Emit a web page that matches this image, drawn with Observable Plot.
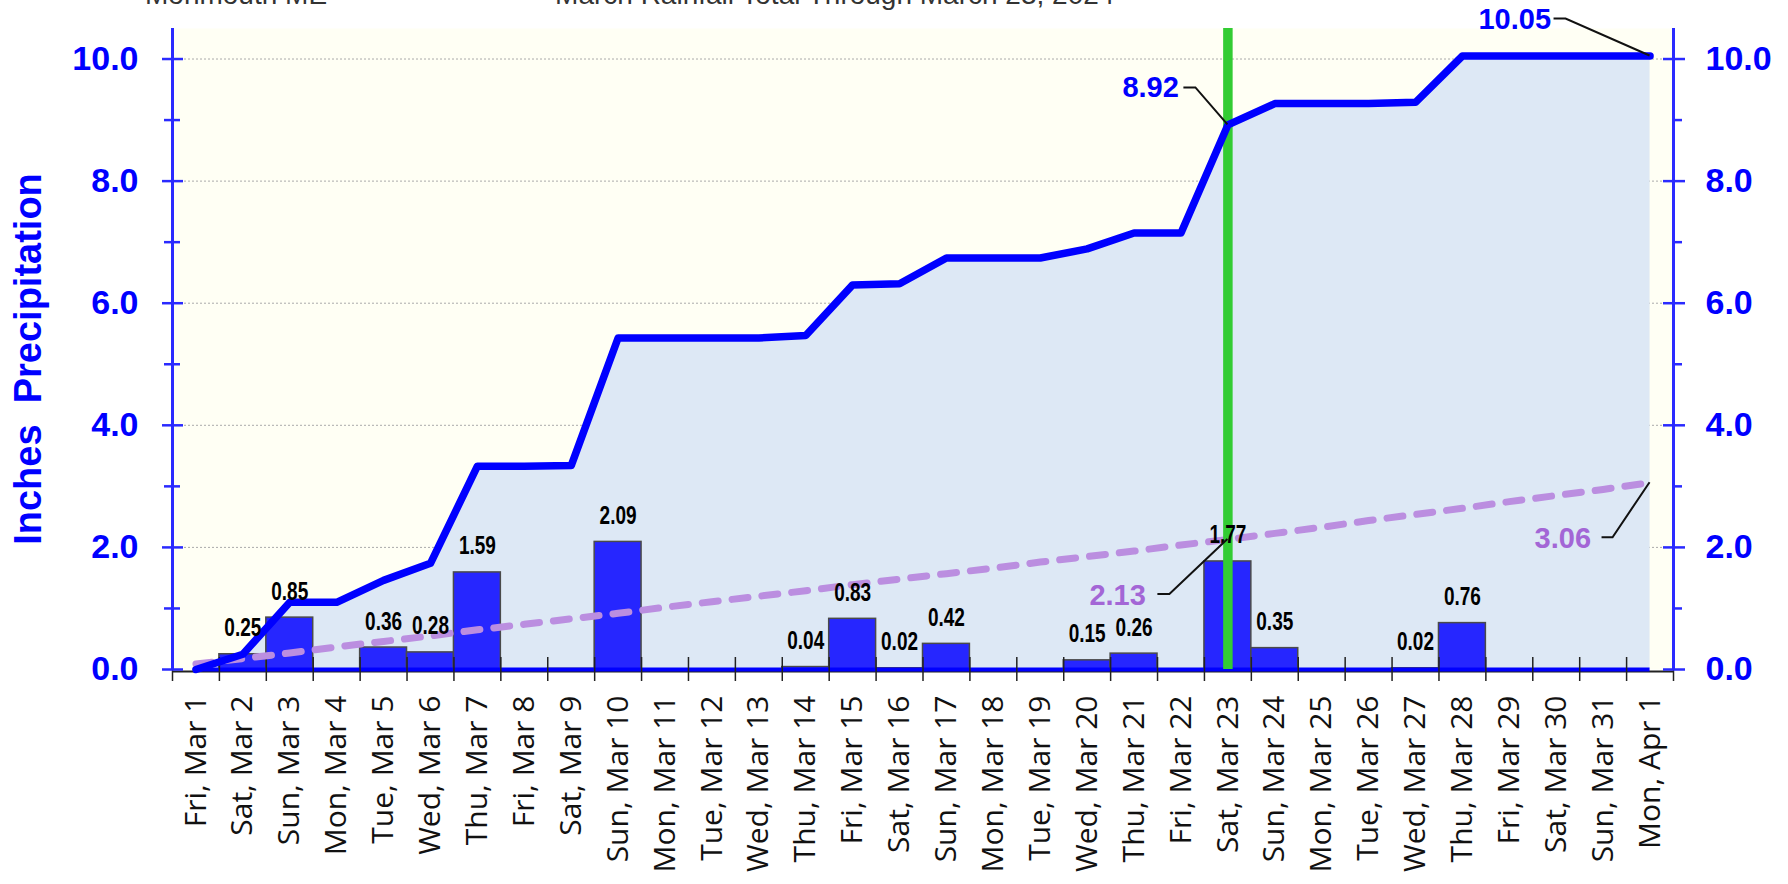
<!DOCTYPE html>
<html><head><meta charset="utf-8">
<script src="https://cdn.jsdelivr.net/npm/d3@7"></script>
<script src="https://cdn.jsdelivr.net/npm/@observablehq/plot@0.6"></script>
<style>
html,body{margin:0;padding:0;background:#fff;overflow:hidden;}
#wrap{position:relative;width:1788px;height:884px;}
#chart{position:absolute;left:0;top:0;}
.ttl{position:absolute;top:-21px;font-family:"Liberation Sans",Arial,sans-serif;font-size:28px;line-height:32px;color:#333;white-space:pre;z-index:5;}
</style></head><body><div id="wrap">
<div id="chart"></div>
<div class="ttl" style="left:145px">Monmouth ME</div>
<div class="ttl" style="right:876px">March Rainfall Total Through</div>
<div class="ttl" style="left:912px"> March 23, 2024</div>
</div>
<script>
// ---- data ----
const dayLabels = ["Fri, Mar 1","Sat, Mar 2","Sun, Mar 3","Mon, Mar 4","Tue, Mar 5","Wed, Mar 6","Thu, Mar 7","Fri, Mar 8","Sat, Mar 9","Sun, Mar 10","Mon, Mar 11","Tue, Mar 12","Wed, Mar 13","Thu, Mar 14","Fri, Mar 15","Sat, Mar 16","Sun, Mar 17","Mon, Mar 18","Tue, Mar 19","Wed, Mar 20","Thu, Mar 21","Fri, Mar 22","Sat, Mar 23","Sun, Mar 24","Mon, Mar 25","Tue, Mar 26","Wed, Mar 27","Thu, Mar 28","Fri, Mar 29","Sat, Mar 30","Sun, Mar 31","Mon, Apr 1"];
const dailyPrecip = [0,0.25,0.85,0,0.36,0.28,1.59,0,0.01,2.09,0,0,0,0.04,0.83,0.02,0.42,0,0,0.15,0.26,0,1.77,0.35,0,0,0.02,0.76,0,0,0,0];
const cumulativePrecip = [0,0.25,1.10,1.10,1.46,1.74,3.33,3.33,3.34,5.43,5.43,5.43,5.43,5.47,6.30,6.32,6.74,6.74,6.74,6.89,7.15,7.15,8.92,9.27,9.27,9.27,9.29,10.05,10.05,10.05,10.05,10.05];
const normalCum = [0.09,0.18,0.27,0.37,0.46,0.55,0.65,0.74,0.83,0.92,1.02,1.11,1.20,1.29,1.39,1.48,1.57,1.66,1.76,1.85,1.94,2.04,2.13,2.23,2.33,2.44,2.54,2.64,2.75,2.85,2.95,3.06];
const majorTicks = [0,2,4,6,8,10];
const minorTicks = [1,3,5,7,9];
const markedDay = "Sat, Mar 23";
const labelMin = 0.02;

// ---- styling ----
const BLUE = "#0000ff";
const PURPLE = "#a366d6";
const rows = dayLabels.map((label, i) => ({i, label, center: i + 0.5, precip: dailyPrecip[i], cum: cumulativePrecip[i], normal: normalCum[i]}));
const mark = rows.find(d => d.label === markedDay);
const last = rows[rows.length - 1];

const annotations = [
  {x: mark.center, y: mark.cum, color: BLUE, tdx: -49, tdy: -37, path: [[-44,-37],[-32,-37],[0,0]]},
  {x: last.center, y: last.cum, color: BLUE, tdx: -99, tdy: -36, path: [[-96,-37],[-84,-37],[0,0]]},
  {x: mark.center, y: mark.normal, color: PURPLE, tdx: -82, tdy: 56, path: [[-70,55],[-58,55],[0,0]]},
  {x: last.center, y: last.normal, color: PURPLE, tdx: -59, tdy: 56, path: [[-48,55],[-37,55],[0,0]]}
];

function leader(a) {
  return (index, scales) => {
    const px = scales.x(a.x), py = scales.y(a.y);
    return d3.create("svg:path")
      .attr("d", d3.line()(a.path.map(([dx, dy]) => [px + dx, py + dy])))
      .attr("fill", "none").attr("stroke", "#111").attr("stroke-width", 2).node();
  };
}

const sans = "'Liberation Sans', Arial, sans-serif";

const chart = Plot.plot({
  width: 1788, height: 884,
  marginLeft: 172, marginRight: 115, marginTop: 28, marginBottom: 215,
  x: {domain: [0, dayLabels.length], axis: null},
  y: {domain: [0, 10.5], axis: null},
  style: {fontFamily: sans, background: "white", overflow: "visible"},
  marks: [
    Plot.frame({fill: "#fffff4", stroke: null}),
    Plot.gridY(majorTicks.filter(t => t > 0), {stroke: "#aaaaaa", strokeOpacity: 1, strokeDasharray: "2,2", strokeWidth: 1}),
    Plot.areaY(rows, {x: "center", y: "cum", fill: "#dde8f5"}),
    Plot.rectY(rows.filter(d => d.precip > 0), {x1: d => d.i, x2: d => d.i + 1, y1: 0, y2: "precip", fill: "#2626ff", stroke: "#4a4a4a", strokeWidth: 1.5}),
    Plot.ruleY([0], {stroke: "#222", strokeWidth: 2, dy: 2}),
    Plot.ruleY([0], {x1: rows[0].center, x2: last.center, stroke: BLUE, strokeWidth: 4}),
    Plot.axisX({ticks: d3.range(dayLabels.length + 1), tickSize: 24, dy: -12, tickFormat: () => "", stroke: "#222", strokeWidth: 1.5, label: null}),
    Plot.lineY(rows, {x: "center", y: "normal", stroke: "#bb8ee0", strokeWidth: 7, strokeDasharray: "16,14", strokeLinecap: "round"}),
    Plot.ruleX([mark.center], {stroke: "#33cc33", strokeWidth: 9.5}),
    Plot.lineY(rows, {x: "center", y: "cum", stroke: BLUE, strokeWidth: 7.5, strokeLinejoin: "round"}),
    Plot.text(rows.filter(d => d.precip >= labelMin), {className: "barlabels", x: "center", y: "precip", text: d => d.precip.toFixed(2), dy: -18, lineAnchor: "bottom", fontSize: 25, fontWeight: "bold", fill: "#000"}),
    // x labels
    Plot.text(rows, {x: "center", text: "label", frameAnchor: "bottom", dy: 26, rotate: -90, textAnchor: "end", lineAnchor: "middle", fontSize: 30, fontFamily: "'Open Sans', sans-serif", fill: "#111"}),
    // left axis
    Plot.ruleX([0], {stroke: "#2a2aff", strokeWidth: 3}),
    Plot.axisY({anchor: "left", ticks: majorTicks, tickSize: 21, dx: 11, tickFormat: () => "", stroke: "#2a2aff", strokeWidth: 2.5, label: null}),
    Plot.axisY({anchor: "left", ticks: minorTicks, tickSize: 16, dx: 8, tickFormat: () => "", stroke: "#2a2aff", strokeWidth: 2.5, label: null}),
    Plot.axisY({anchor: "left", ticks: majorTicks, tickSize: 0, tickPadding: 34, tickFormat: d3.format(".1f"), fontSize: 34, fontWeight: "bold", fill: BLUE, label: null}),
    // right axis
    Plot.ruleX([dayLabels.length], {stroke: "#2a2aff", strokeWidth: 3}),
    Plot.axisY({anchor: "right", ticks: majorTicks, tickSize: 22, dx: -11, tickFormat: () => "", stroke: "#2a2aff", strokeWidth: 2.5, label: null}),
    Plot.axisY({anchor: "right", ticks: minorTicks, tickSize: 8, tickFormat: () => "", stroke: "#2a2aff", strokeWidth: 2.5, label: null}),
    Plot.axisY({anchor: "right", ticks: majorTicks, tickSize: 0, tickPadding: 32, tickFormat: d3.format(".1f"), fontSize: 34, fontWeight: "bold", fill: BLUE, label: null}),
    // y label
    Plot.text(["Inches\u00a0\u00a0Precipitation"], {frameAnchor: "left", dx: -144, dy: 10, rotate: -90, text: d => d, fontSize: 38, fontWeight: "bold", fill: BLUE, textAnchor: "middle", lineAnchor: "middle"}),
    // annotations
    ...annotations.map(a => leader(a)),
    ...annotations.map(a => Plot.text([a], {x: "x", y: "y", text: d => d.y.toFixed(2), dx: a.tdx, dy: a.tdy, textAnchor: "end", lineAnchor: "middle", fontSize: 29, fontWeight: "bold", fill: a.color}))
  ]
});
document.getElementById("chart").appendChild(chart);
// condense bar labels (narrow face look)
chart.querySelectorAll(".barlabels text").forEach(t => {
  const w = t.getComputedTextLength();
  if (w > 0) {
    t.setAttribute("textLength", (w * 0.76).toFixed(1));
    t.setAttribute("lengthAdjust", "spacingAndGlyphs");
  }
});
</script>
</body></html>
